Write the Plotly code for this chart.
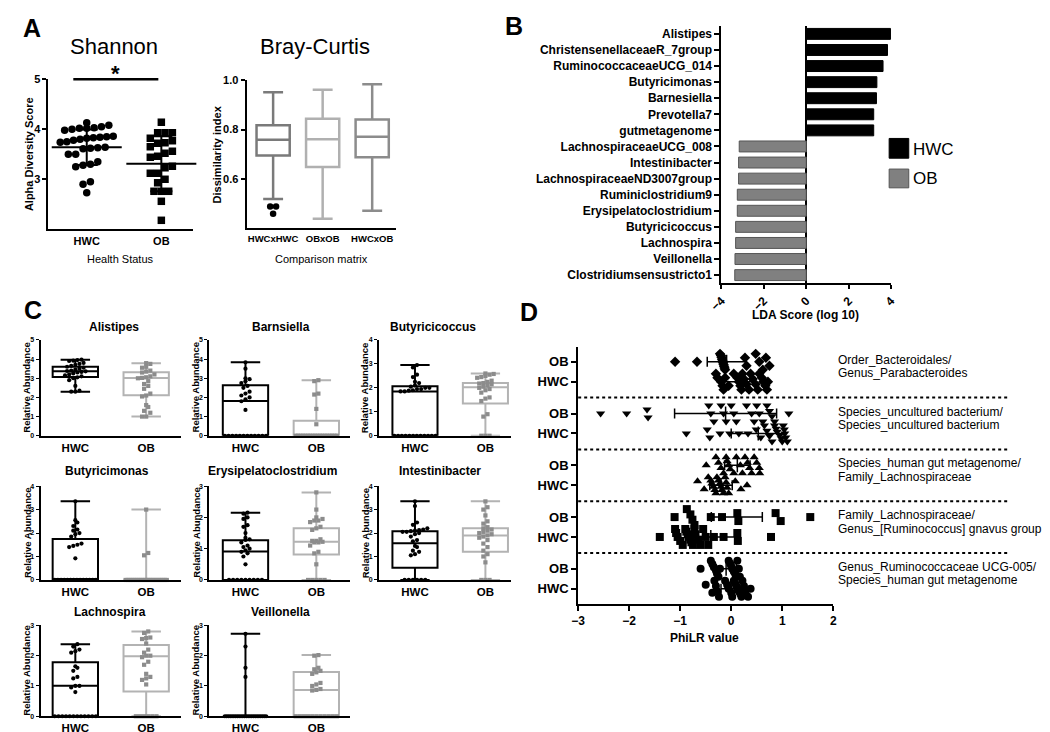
import numpy as np
import plotly.graph_objects as go

# ------------------------------------------------------------------ data
# Panel A - Shannon
shannon_groups = ["HWC", "OB"]
shannon_hwc = [4.13, 4.08, 4.05, 4.03, 4.02, 4.02, 4.0, 3.98, 3.86, 3.85, 3.84, 3.83, 3.82, 3.8,
               3.78, 3.75, 3.74, 3.64, 3.63, 3.62, 3.61, 3.5, 3.5, 3.35, 3.3, 3.28, 3.25, 2.95, 2.9, 2.73]
shannon_ob = [4.14, 3.93, 3.93, 3.93, 3.82, 3.77, 3.73, 3.72, 3.65, 3.56, 3.52, 3.46, 3.44, 3.26,
              3.23, 3.12, 3.12, 3.0, 2.93, 2.76, 2.76, 2.76, 2.56, 2.18]
shannon_mean = [3.64, 3.31]
shannon_sd = [0.355, 0.55]

# Panel A - Bray-Curtis (box statistics)
bc_groups = ["HWCxHWC", "OBxOB", "HWCxOB"]
bc_low = [0.519, 0.439, 0.471]
bc_q1 = [0.695, 0.648, 0.688]
bc_med = [0.759, 0.761, 0.771]
bc_q3 = [0.817, 0.844, 0.841]
bc_high = [0.951, 0.961, 0.984]
bc_outliers = [0.488, 0.488, 0.459]

# Panel B - LEfSe
lda_taxa = ["Alistipes", "ChristensenellaceaeR_7group", "RuminococcaceaeUCG_014", "Butyricimonas",
            "Barnesiella", "Prevotella7", "gutmetagenome", "LachnospiraceaeUCG_008", "Intestinibacter",
            "LachnospiraceaeND3007group", "Ruminiclostridium9", "Erysipelatoclostridium",
            "Butyricicoccus", "Lachnospira", "Veillonella", "Clostridiumsensustricto1"]
lda_score = [3.97, 3.83, 3.62, 3.33, 3.31, 3.18, 3.18, -3.16, -3.19, -3.19, -3.25, -3.25,
             -3.33, -3.33, -3.36, -3.37]
lda_class = ["HWC"] * 7 + ["OB"] * 9

# Panel C - relative abundance
c_taxa = ["Alistipes", "Barnsiella", "Butyricicoccus", "Butyricimonas",
          "Erysipelatoclostridium", "Intestinibacter", "Lachnospira", "Veillonella"]
c_ymax = [5, 5, 4, 4, 3, 4, 3, 3]
alistipes_hwc = [3.97, 3.95, 3.92, 3.9, 3.8, 3.75, 3.7, 3.65, 3.6, 3.55, 3.5, 3.45, 3.4, 3.38, 3.36,
                 3.33, 3.3, 3.25, 3.2, 3.15, 3.1, 3.05, 3.0, 2.9, 2.6, 2.35, 2.3, 2.3]
alistipes_ob = [3.79, 3.75, 3.6, 3.55, 3.4, 3.35, 3.3, 3.2, 3.1, 3.05, 3.02, 3.0, 2.85, 2.7, 2.6,
                2.45, 2.2, 2.1, 2.05, 1.6, 1.5, 1.3, 1.2, 1.0, 1.0]
barnsiella_hwc = [0] * 12 + [3.83, 3.5, 3.0, 2.95, 2.85, 2.75, 2.6, 2.5, 2.3, 2.2, 2.1, 2.0, 1.9, 1.8, 1.35]
barnsiella_ob = [0] * 18 + [2.9, 2.85, 2.2, 2.15, 1.4, 0.6]
butyricicoccus_hwc = [0] * 12 + [2.95, 2.85, 2.55, 2.45, 2.25, 2.2, 2.1, 2.05, 2.0, 2.0, 1.95, 1.95,
                                 1.9, 1.88, 1.85, 1.85]
butyricicoccus_ob = [2.6, 2.58, 2.55, 2.5, 2.45, 2.42, 2.3, 2.25, 2.2, 2.18, 2.15, 2.1, 2.05, 2.0,
                     1.95, 1.9, 1.8, 1.6, 1.55, 1.45, 0.9, 0.8, 0, 0, 0]
butyricimonas_hwc = [0] * 14 + [3.35, 2.55, 2.45, 2.3, 2.15, 2.1, 2.0, 1.95, 1.85, 1.55, 1.5, 1.45, 1.4, 0.92]
butyricimonas_ob = [0] * 22 + [3.0, 1.15, 1.05]
erysipelato_hwc = [0] * 9 + [2.15, 2.12, 2.0, 1.95, 1.75, 1.7, 1.5, 1.35, 1.3, 1.28, 1.2, 1.1, 1.05,
                             1.0, 0.95, 0.9, 0.85, 0.75, 0.5]
erysipelato_ob = [2.8, 2.25, 2.0, 1.95, 1.9, 1.9, 1.85, 1.7, 1.65, 1.6, 1.3, 1.25, 1.25, 1.22, 1.2,
                  1.2, 1.1, 0.9, 0.85, 0.5, 0, 0, 0, 0, 0]
intestini_hwc = [3.35, 3.15, 2.45, 2.35, 2.2, 2.15, 2.12, 2.1, 2.08, 2.05, 2.05, 2.0, 1.95, 1.85, 1.7,
                 1.65, 1.45, 1.4, 1.25, 1.2, 1.1, 1.05, 0, 0, 0, 0, 0, 0]
intestini_ob = [3.35, 3.1, 3.0, 2.75, 2.5, 2.4, 2.25, 2.2, 2.15, 2.1, 2.05, 2.0, 1.95, 1.9, 1.85, 1.8,
                1.7, 1.55, 1.4, 1.25, 1.1, 1.0, 0.75, 0, 0, 0]
lachnospira_hwc = [0] * 12 + [2.38, 2.3, 2.2, 2.15, 2.1, 1.65, 1.6, 1.5, 1.3, 1.25, 1.0, 1.0, 0.95, 0.8]
lachnospira_ob = [2.8, 2.75, 2.6, 2.58, 2.55, 2.4, 2.2, 2.1, 2.0, 2.0, 1.95, 1.8, 1.7, 1.4, 1.3, 1.25,
                  1.2, 1.05, 0, 0, 0, 0, 0, 0]
veillonella_hwc = [0] * 24 + [2.72, 2.3, 1.6, 1.3]
veillonella_ob = [2.02, 2.0, 1.6, 1.55, 1.5, 1.45, 1.4, 1.1, 1.05, 1.0, 0.9, 0.87, 0.85] + [0] * 11
c_hwc_q1 = [3.06, 0, 0, 0, 0, 0.52, 0, 0]
c_hwc_med = [3.36, 1.81, 1.85, 0, 0.91, 1.56, 1.01, 0]
c_hwc_q3 = [3.6, 2.63, 2.07, 1.75, 1.27, 2.08, 1.78, 0]
c_ob_q1 = [2.12, 0, 1.35, 0, 0.81, 1.2, 0.82, 0]
c_ob_med = [3.02, 0.05, 2.02, 0, 1.22, 1.9, 1.98, 0.87]
c_ob_q3 = [3.32, 0.78, 2.2, 0, 1.65, 2.2, 2.35, 1.46]

# Panel D - PhiLR balances
d_label_top = ["Order_Bacteroidales/", "Species_uncultured bacterium/", "Species_human gut metagenome/",
               "Family_Lachnospiraceae/", "Genus_Ruminococcaceae UCG-005/"]
d_label_bottom = ["Genus_Parabacteroides", "Species_uncultured bacterium", "Family_Lachnospiraceae",
                  "Genus_[Ruminococcus] gnavus group", "Species_human gut metagenome"]
d_symbols = ["diamond", "triangle-down", "triangle-up", "square", "circle"]
d1_ob = [-1.1, -0.67, -0.22, -0.2, -0.19, -0.18, -0.17, -0.16, -0.15, -0.14, -0.13, -0.12, 0.27, 0.3,
         0.48, 0.55, 0.62, 0.68, 0.75]
d1_hwc = [-0.3, -0.27, -0.2, -0.17, -0.15, -0.12, -0.05, 0.05, 0.12, 0.15, 0.18, 0.2, 0.22, 0.25, 0.3,
          0.35, 0.38, 0.42, 0.48, 0.52, 0.55, 0.6, 0.63, 0.67, 0.7, 0.72]
d2_ob = [-2.56, -2.05, -1.65, -1.63, -0.44, -0.4, -0.34, -0.2, -0.15, -0.1, 0.0, 0.05, 0.1, 0.3, 0.4,
         0.45, 0.5, 0.55, 0.62, 0.7, 0.75, 0.8, 0.85, 1.13]
d2_hwc = [-0.88, -0.47, -0.42, -0.22, -0.03, 0.15, 0.33, 0.49, 0.58, 0.65, 0.7, 0.75, 0.8, 0.85, 0.88,
          0.9, 0.95, 0.98, 1.0, 1.02, 1.04, 1.05, 1.07, 1.1]
d3_ob = [-0.49, -0.3, -0.25, -0.2, -0.15, -0.1, -0.08, -0.05, -0.02, 0.05, 0.1, 0.18, 0.22, 0.27, 0.32,
         0.36, 0.4, 0.45, 0.5, 0.55, 0.56]
d3_hwc = [-0.66, -0.53, -0.45, -0.4, -0.38, -0.35, -0.32, -0.3, -0.28, -0.25, -0.22, -0.2, -0.18, -0.15,
          -0.12, -0.1, -0.08, -0.05, 0.08, 0.19, 0.31]
d4_ob = [-1.11, -0.87, -0.8, -0.76, -0.72, -0.4, -0.18, 0.12, 0.14, 0.87, 0.97, 1.55]
d4_hwc = [-1.4, -1.1, -1.08, -1.05, -1.0, -0.95, -0.9, -0.88, -0.85, -0.82, -0.8, -0.78, -0.75, -0.72,
          -0.7, -0.65, -0.6, -0.55, -0.5, -0.45, -0.34, -0.15, 0.12, 0.13, 0.78]
d5_ob = [-0.6, -0.4, -0.37, -0.34, -0.3, -0.28, -0.25, -0.22, -0.05, -0.02, 0.0, 0.02, 0.05, 0.08, 0.1,
         0.12, 0.15, 0.17]
d5_hwc = [-0.5, -0.37, -0.33, -0.3, -0.27, -0.24, -0.12, -0.08, -0.05, 0.0, 0.02, 0.05, 0.08, 0.1, 0.12,
          0.15, 0.18, 0.2, 0.22, 0.25, 0.28, 0.33, 0.38]
d_ob_mean = [-0.09, -0.11, 0.12, 0.11, -0.1]
d_ob_sd = [0.38, 1.0, 0.25, 0.5, 0.2]
d_hwc_mean = [0.15, 0.53, -0.2, -0.4, 0.0]
d_hwc_sd = [0.32, 0.53, 0.22, 0.5, 0.2]

# ------------------------------------------------------------------ helpers
W, H = 1050, 732
FONT = "Liberation Sans, Arial, Helvetica, sans-serif"
GRAY_BAR = "#808080"
OB_BOX = "#b3b3b3"
OB_PT = "#8c8c8c"


def xd(x0, x1):
    return [x0 / W, x1 / W]


def yd(top, bottom):
    return [1 - bottom / H, 1 - top / H]


def spread(vals, val_px, dot_px, half_px):
    """Deterministic dot-plot spreading (pixel offsets across the category)."""
    v = np.asarray(vals, float)
    order = np.argsort(v, kind="stable")
    off = np.zeros(len(v))
    rows, cur = [], [order[0]]
    for idx in order[1:]:
        if (v[idx] - v[cur[0]]) * val_px < dot_px:
            cur.append(idx)
        else:
            rows.append(cur)
            cur = [idx]
    rows.append(cur)
    for row in rows:
        k = len(row)
        if k > 1:
            s = min(dot_px, 2 * half_px / (k - 1))
            for j, idx in enumerate(row):
                off[idx] = (j - (k - 1) / 2) * s
    return off


def font(size, bold=False, color="black"):
    return dict(family=FONT, size=size, color=color, weight="bold" if bold else "normal")


annotations = []


def text(x, y, s, size=11, bold=False, angle=0, xanchor="center", yanchor="middle",
         xref="paper", yref="paper"):
    annotations.append(dict(
        x=x / W if xref == "paper" else x, y=1 - y / H if yref == "paper" else y,
        text=s, showarrow=False, font=font(size, bold), textangle=angle,
        xanchor=xanchor, yanchor=yanchor, xref=xref, yref=yref, borderpad=0))


def axstyle(**kw):
    d = dict(showline=True, linecolor="black", linewidth=2, ticks="outside", tickcolor="black",
             tickwidth=1.5, ticklen=4, showgrid=False, zeroline=False,
             tickfont=font(11, True))
    d.update(kw)
    return d


fig = go.Figure()
layout_axes = {}
shapes = []


def names(n):
    s = "" if n == 1 else str(n)
    return "x" + s, "y" + s, "xaxis" + s, "yaxis" + s


# ------------------------------------------------------------------ Panel A Shannon
xa, ya, xk, yk = names(1)
sh_x_px, sh_y_px = 76.0, 50.5
layout_axes[xk] = axstyle(domain=xd(28, 175), anchor=ya, range=[-0.513, 1.42], tickvals=[0, 1],
                          ticktext=shannon_groups, ticks="", tickangle=0)
layout_axes[yk] = axstyle(domain=yd(66, 218), anchor=xa, range=[2.0, 5.0], tickvals=[3, 4, 5])
for gi, (vals, sym) in enumerate([(shannon_hwc, "circle"), (shannon_ob, "square")]):
    off = spread(vals, sh_y_px, 7.5, 27)
    fig.add_trace(go.Scatter(x=gi + off / sh_x_px, y=vals, mode="markers", xaxis=xa, yaxis=ya,
                             marker=dict(symbol=sym, size=7.5, color="black"), cliponaxis=False))
    fig.add_trace(go.Scatter(x=[gi], y=[shannon_mean[gi]], mode="markers", xaxis=xa, yaxis=ya,
                             marker=dict(symbol="line-ew", size=50, line=dict(width=2, color="black")),
                             error_y=dict(type="data", array=[shannon_sd[gi]], color="black",
                                          thickness=2, width=11), cliponaxis=False))
shapes.append(dict(type="line", xref=xa, yref="paper", x0=-0.18, x1=0.96, y0=1 - 66 / H, y1=1 - 66 / H,
                   line=dict(color="black", width=2.5)))
text(0.39, 60, "*", 22, True, xref=xa)
text(95, 33, "Shannon", 22)
text(8, 142, "Alpha Diversity Score", 11, True, angle=-90)
text(101, 248, "Health Status", 11)

# ------------------------------------------------------------------ Panel A Bray-Curtis
xa, ya, xk, yk = names(2)
bc_x_px = 50.5
layout_axes[xk] = axstyle(domain=xd(230, 382), anchor=ya, range=[-0.535, 2.475], tickvals=[0, 1, 2],
                          ticktext=bc_groups, ticks="", tickangle=0, tickfont=font(9.5, True))
layout_axes[yk] = axstyle(domain=yd(67, 217), anchor=xa, range=[0.4, 1.0], tickvals=[0.6, 0.8, 1.0],
                          ticktext=["0.6", "0.8", "1.0"])
bc_colors = ["#7a7a7a", "#b0b0b0", "#8c8c8c"]
for i in range(3):
    fig.add_trace(go.Box(x=[i], q1=[bc_q1[i]], median=[bc_med[i]], q3=[bc_q3[i]],
                         lowerfence=[bc_low[i]], upperfence=[bc_high[i]], width=0.67, whiskerwidth=0.6,
                         line=dict(color=bc_colors[i], width=2.5), fillcolor="rgba(0,0,0,0)",
                         boxpoints=False, xaxis=xa, yaxis=ya))
off = spread(bc_outliers, 250, 6, 4)
fig.add_trace(go.Scatter(x=0 + off / bc_x_px, y=bc_outliers, mode="markers", xaxis=xa, yaxis=ya,
                         marker=dict(symbol="circle", size=6.5, color="black"), cliponaxis=False))
text(300, 33, "Bray-Curtis", 22)
text(200, 142, "Dissimilarity index", 11, True, angle=-90)
text(306, 248, "Comparison matrix", 11)

# ------------------------------------------------------------------ Panel B LDA
xa, ya, xk, yk = names(3)
pos = list(range(len(lda_taxa)))
layout_axes[xk] = axstyle(domain=xd(714, 887), anchor=ya, range=[-4, 4], tickvals=[-4, -2, 0, 2, 4],
                          tickangle=-45, tickfont=font(12, True), zeroline=True, zerolinecolor="black",
                          zerolinewidth=2)
layout_axes[yk] = axstyle(domain=yd(12, 272.5), anchor=xa, range=[15.5, -0.5], tickvals=pos,
                          ticktext=lda_taxa, tickfont=font(12, True), ticklen=5)
for cls, col, lc in [("HWC", "black", "black"), ("OB", GRAY_BAR, "#555555")]:
    idx = [i for i, c in enumerate(lda_class) if c == cls]
    fig.add_trace(go.Bar(x=[lda_score[i] for i in idx], y=[pos[i] for i in idx], orientation="h",
                         width=0.68, marker=dict(color=col, line=dict(color=lc, width=1)),
                         xaxis=xa, yaxis=ya))
shapes.append(dict(type="rect", xref="paper", yref="paper", x0=885 / W, x1=905 / W,
                   y0=1 - 146 / H, y1=1 - 126 / H, fillcolor="black", line=dict(color="black", width=1)))
shapes.append(dict(type="rect", xref="paper", yref="paper", x0=885 / W, x1=905 / W,
                   y0=1 - 176 / H, y1=1 - 157 / H, fillcolor=GRAY_BAR, line=dict(color="#555555", width=1)))
text(908, 137, "HWC", 17, xanchor="left")
text(908, 167, "OB", 17, xanchor="left")
text(800, 305, "LDA Score (log 10)", 12, True)

# ------------------------------------------------------------------ Panel C
c_hwc = [alistipes_hwc, barnsiella_hwc, butyricicoccus_hwc, butyricimonas_hwc, erysipelato_hwc,
         intestini_hwc, lachnospira_hwc, veillonella_hwc]
c_ob = [alistipes_ob, barnsiella_ob, butyricicoccus_ob, butyricimonas_ob, erysipelato_ob,
        intestini_ob, lachnospira_ob, veillonella_ob]
c_cols = [(20, 163, -0.49, 1.49), (192, 335, -0.51, 1.47), (365, 500, -0.51, 1.37)]
c_rows = [(330, 427), (478, 573), (619, 711)]
c_title_y = [317, 463, 605]
c_title_x = [95, 265, 420, 88, 256, 427, 91, 265]
for k in range(8):
    n = 4 + k
    xa, ya, xk, yk = names(n)
    r, c = divmod(k, 3)
    x0, x1, rlo, rhi = c_cols[c]
    top, bot = c_rows[r]
    x_px = (x1 - x0) / (rhi - rlo)
    y_px = (bot - top) / c_ymax[k]
    layout_axes[xk] = axstyle(domain=xd(x0, x1), anchor=ya, range=[rlo, rhi], tickvals=[0, 1],
                              ticktext=["HWC", "OB"], ticks="", tickfont=font(11.5, True))
    layout_axes[yk] = axstyle(domain=yd(top, bot), anchor=xa, range=[0, c_ymax[k]],
                              tickvals=list(range(c_ymax[k] + 1)), tickfont=font(7, True), ticklen=3,
                              tickwidth=1)
    groups = [(c_hwc[k], c_hwc_q1[k], c_hwc_med[k], c_hwc_q3[k], "black", "black", "circle"),
              (c_ob[k], c_ob_q1[k], c_ob_med[k], c_ob_q3[k], OB_BOX, OB_PT, "square")]
    for gi, (vals, q1, med, q3, lcol, pcol, sym) in enumerate(groups):
        fig.add_trace(go.Box(x=[gi], q1=[q1], median=[med], q3=[q3], lowerfence=[min(vals)],
                             upperfence=[max(vals)], width=0.64, whiskerwidth=0.65,
                             line=dict(color=lcol, width=2), fillcolor="rgba(0,0,0,0)",
                             boxpoints=False, xaxis=xa, yaxis=ya))
        off = spread(vals, y_px, 4.2, 21)
        fig.add_trace(go.Scatter(x=gi + off / x_px, y=vals, mode="markers", xaxis=xa, yaxis=ya,
                                 marker=dict(symbol=sym, size=4.2, color=pcol), cliponaxis=False))
    text(c_title_x[k], c_title_y[r], c_taxa[k], 12, True)
    text(x0 - 14, (top + bot) / 2, "Relative Abundance", 9.5, True, angle=-90)

# ------------------------------------------------------------------ Panel D
xa, ya, xk, yk = names(12)
d_ob = [d1_ob, d2_ob, d3_ob, d4_ob, d5_ob]
d_hwc = [d1_hwc, d2_hwc, d3_hwc, d4_hwc, d5_hwc]
d_ob_pos = [g * 2.6 for g in range(5)]
d_hwc_pos = [g * 2.6 + 1 for g in range(5)]
tv, tt = [], []
for g in range(5):
    tv += [d_ob_pos[g], d_hwc_pos[g]]
    tt += ["OB", "HWC"]
layout_axes[xk] = axstyle(domain=xd(568, 828), anchor=ya, range=[-3, 2], tickvals=[-3, -2, -1, 0, 1, 2],
                          tickfont=font(12, True), ticklen=5)
layout_axes[yk] = axstyle(domain=yd(337, 597), anchor=xa, range=[12.15, -0.75], tickvals=tv,
                          ticktext=tt, tickfont=font(13, True), ticklen=5)
dx_px, dy_px = 52.0, 20.0
for g in range(5):
    for vals, p, mean, sd in [(d_ob[g], d_ob_pos[g], d_ob_mean[g], d_ob_sd[g]),
                              (d_hwc[g], d_hwc_pos[g], d_hwc_mean[g], d_hwc_sd[g])]:
        fig.add_trace(go.Scatter(x=[mean], y=[p], mode="markers", xaxis=xa, yaxis=ya,
                                 marker=dict(symbol="line-ns", size=10, line=dict(width=1.5, color="black")),
                                 error_x=dict(type="data", array=[sd], color="black", thickness=1.5, width=5),
                                 cliponaxis=False))
        off = spread(vals, dx_px, 8, 8)
        fig.add_trace(go.Scatter(x=vals, y=p + off / dy_px, mode="markers", xaxis=xa, yaxis=ya,
                                 marker=dict(symbol=d_symbols[g], size=8, color="black"), cliponaxis=False))
    if g < 4:
        ysep = d_hwc_pos[g] + 0.8
        shapes.append(dict(type="line", xref="paper", yref=ya, x0=568 / W, x1=1007 / W, y0=ysep, y1=ysep,
                           line=dict(color="black", width=2, dash="dot")))
    annotations.append(dict(x=832 / W, y=d_ob_pos[g] - 0.1, xref="paper", yref=ya, text=d_label_top[g],
                            showarrow=False, font=font(12), xanchor="left", yanchor="middle", borderpad=0))
    annotations.append(dict(x=832 / W, y=d_ob_pos[g] + 0.58, xref="paper", yref=ya, text=d_label_bottom[g],
                            showarrow=False, font=font(12), xanchor="left", yanchor="middle", borderpad=0))
text(697, 632, "PhiLR value", 12, True)

# ------------------------------------------------------------------ panel letters
text(11, 14, "A", 25, True)
text(503, 12, "B", 25, True)
text(12, 300, "C", 25, True)
text(518, 302, "D", 25, True)

fig.update_layout(width=W, height=H, margin=dict(l=0, r=0, t=0, b=0), paper_bgcolor="white",
                  plot_bgcolor="white", showlegend=False, barmode="overlay", boxmode="overlay",
                  font=font(11), annotations=annotations, shapes=shapes, **layout_axes)
fig.write_html("out.html")
